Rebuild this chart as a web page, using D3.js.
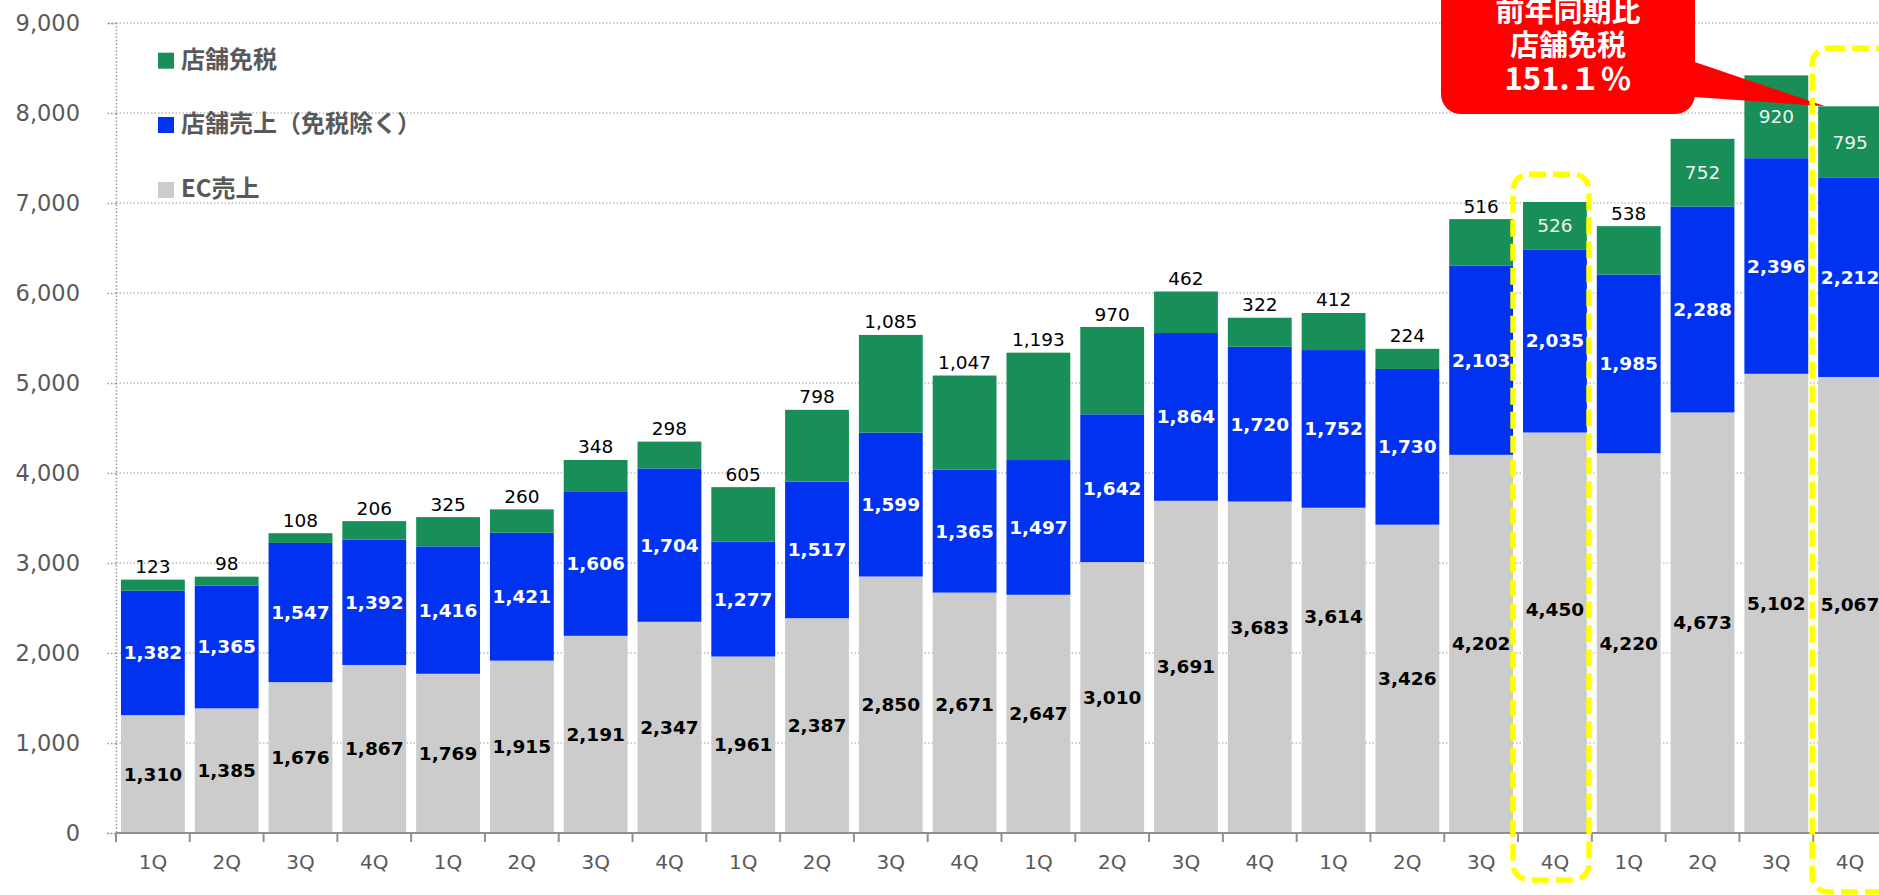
<!DOCTYPE html>
<html><head><meta charset="utf-8">
<script src="https://cdn.jsdelivr.net/npm/d3@7"></script>
<style>
html,body{margin:0;padding:0;background:#fff;overflow:hidden;}
svg{display:block;}
</style></head><body>
<svg id="chart" width="1879" height="895"></svg>
<script>
// ---- data ----
const quarters = ["1Q","2Q","3Q","4Q","1Q","2Q","3Q","4Q","1Q","2Q","3Q","4Q",
                  "1Q","2Q","3Q","4Q","1Q","2Q","3Q","4Q","1Q","2Q","3Q","4Q"];
const ecSales    = [1310,1385,1676,1867,1769,1915,2191,2347,1961,2387,2850,2671,
                    2647,3010,3691,3683,3614,3426,4202,4450,4220,4673,5102,5067];
const storeSales = [1382,1365,1547,1392,1416,1421,1606,1704,1277,1517,1599,1365,
                    1497,1642,1864,1720,1752,1730,2103,2035,1985,2288,2396,2212];
const taxFree    = [123,98,108,206,325,260,348,298,605,798,1085,1047,
                    1193,970,462,322,412,224,516,526,538,752,920,795];
const yTicks = [0,1000,2000,3000,4000,5000,6000,7000,8000,9000];
const seriesNames = {tax:"店舗免税", store:"店舗売上（免税除く）", ec:"EC売上"};
const calloutLines = ["前年同期比","店舗免税","151.１％"];
const highlightIdx = [19, 23];

// label placement config
const taxFreeInside = [19,21,22,23];
const ecLabelLift = {11:8, 15:40, 16:54, 19:23};

const colors = {ec:"#CCCCCC", store:"#0032F0", tax:"#188F58"};
const labelFont = "'DejaVu Sans', Verdana, sans-serif";
const jpFont = "'Noto Sans CJK JP', 'Noto Sans', sans-serif";

const rows = quarters.map((q,i)=>({i, ec:ecSales[i], store:storeSales[i], tax:taxFree[i]}));
const keys = ["ec","store","tax"];
const stacked = d3.stack().keys(keys)(rows);

const svg = d3.select("#chart");
const x = d3.scaleBand().domain(d3.range(quarters.length)).range([116,1887])
  .paddingInner(0.135).paddingOuter(0.0675);
const y = d3.scaleLinear().domain([0,9000]).range([833,23]);
const step = x.step();
const x0 = x.range()[0];

// gridlines
svg.append("g").selectAll("line").data(yTicks.filter(d=>d>0)).join("line")
  .attr("x1",x0).attr("x2",1879).attr("y1",d=>y(d)).attr("y2",d=>y(d))
  .attr("stroke","#BDBDBD").attr("stroke-width",1.5).attr("stroke-dasharray","1.5,2");

// y axis
const yAxis = svg.append("g").attr("transform",`translate(${x0},0)`)
  .call(d3.axisLeft(y).tickValues(yTicks).tickFormat(d3.format(",")).tickSize(9).tickPadding(27));
yAxis.select(".domain").attr("stroke","#9A9A9A").attr("stroke-width",1.5).attr("stroke-dasharray","1.5,2");
yAxis.selectAll(".tick line").attr("stroke","#9A9A9A").attr("stroke-width",1.5).attr("stroke-dasharray","1.5,2");
yAxis.selectAll(".tick text").attr("fill","#595959").attr("font-size",22.5).attr("font-family",labelFont);

// bars
svg.append("g").selectAll("g").data(stacked).join("g")
  .attr("fill",d=>colors[d.key])
  .selectAll("rect").data(d=>d).join("rect")
  .attr("x",d=>x(d.data.i)).attr("width",x.bandwidth())
  .attr("y",d=>y(d[1])).attr("height",d=>y(d[0])-y(d[1]));

// x axis
const xAxis = svg.append("g").attr("transform",`translate(0,${y(0)})`)
  .call(d3.axisBottom(x).tickFormat(i=>quarters[i]).tickSize(0).tickPadding(22));
xAxis.select(".domain").remove();
xAxis.selectAll(".tick text").attr("fill","#595959").attr("font-size",20).attr("font-family",labelFont);
svg.append("line").attr("x1",x0).attr("x2",1879).attr("y1",y(0)).attr("y2",y(0))
  .attr("stroke","#8F8F8F").attr("stroke-width",2);
svg.append("g").selectAll("line").data(d3.range(quarters.length+1)).join("line")
  .attr("x1",i=>x0+i*step).attr("x2",i=>x0+i*step)
  .attr("y1",y(0)).attr("y2",y(0)+9)
  .attr("stroke","#8F8F8F").attr("stroke-width",2);

// labels
const lab = svg.append("g").attr("font-family",labelFont).attr("text-anchor","middle")
  .attr("dominant-baseline","central");
const fmt = d3.format(",");
const ecS = stacked[0], stS = stacked[1], txS = stacked[2];
lab.selectAll(".ecl").data(ecS).join("text")
  .attr("x",d=>x(d.data.i)+x.bandwidth()/2)
  .attr("y",d=>y((d[0]+d[1])/2)-(ecLabelLift[d.data.i]||0))
  .attr("font-size",18.5).attr("font-weight","bold").attr("fill","#000")
  .text(d=>fmt(d.data.ec));
lab.selectAll(".stl").data(stS).join("text")
  .attr("x",d=>x(d.data.i)+x.bandwidth()/2)
  .attr("y",d=>y((d[0]+d[1])/2))
  .attr("font-size",18.5).attr("font-weight","bold").attr("fill","#fff")
  .text(d=>fmt(d.data.store));
lab.selectAll(".txl").data(txS).join("text")
  .attr("x",d=>x(d.data.i)+x.bandwidth()/2)
  .attr("y",d=>taxFreeInside.includes(d.data.i) ? y((d[0]+d[1])/2) : y(d[1])-13)
  .attr("font-size",18.5).attr("fill",d=>taxFreeInside.includes(d.data.i)?"#F2F2F2":"#000")
  .text(d=>fmt(d.data.tax));

// legend
const legend = svg.append("g").attr("font-family",jpFont);
[["tax",52.7],["store",117],["ec",182]].forEach(([k,ty])=>{
  legend.append("rect").attr("x",158).attr("y",ty).attr("width",16).attr("height",16).attr("fill",colors[k]);
  legend.append("text").attr("x",181).attr("y",ty+4.5).attr("dominant-baseline","central")
    .attr("font-size",24).attr("font-weight","bold").attr("fill","#595959").text(seriesNames[k]);
});

// callout
const tipI = 23;
const tip = [x(tipI)+7, y(ecSales[tipI]+storeSales[tipI]+taxFree[tipI])];
const co = svg.append("g");
co.append("rect").attr("x",1441).attr("y",-40).attr("width",254).attr("height",154).attr("rx",20)
  .attr("fill","#FF0000");
co.append("path").attr("d",`M1680,57 L${tip[0]},${tip[1]} L1680,96 Z`).attr("fill","#FF0000");
co.selectAll("text").data(calloutLines).join("text")
  .attr("x",1568).attr("y",(d,i)=>8.5+i*34).attr("text-anchor","middle").attr("dominant-baseline","central")
  .attr("font-family",jpFont).attr("font-weight","bold").attr("fill","#fff")
  .attr("font-size",(d,i)=>i===2?31:29).text(d=>d);

// highlight boxes
const boxes = [
  {i:highlightIdx[0], top:7320, bottom:880, dx:-5, w:76},
  {i:highlightIdx[1], top:8720, bottom:892, dx:-1, w:120}
];
svg.append("g").selectAll("rect").data(boxes).join("rect")
  .attr("x",b=>x0+b.i*step+b.dx).attr("width",b=>b.w)
  .attr("y",b=>y(b.top)).attr("height",b=>b.bottom-y(b.top))
  .attr("rx",16).attr("fill","none").attr("stroke","#FFFF00").attr("stroke-width",5.5)
  .attr("stroke-dasharray","17,7");
</script>
</body></html>
